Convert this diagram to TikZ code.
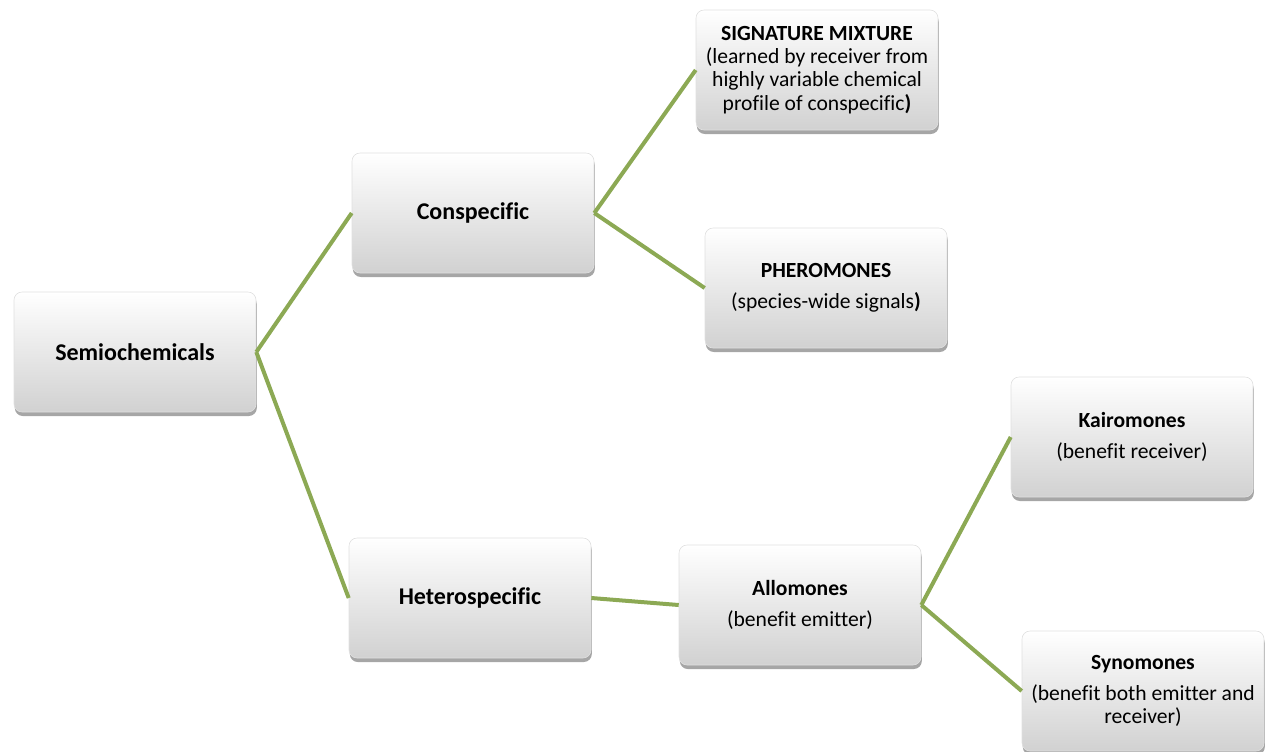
\documentclass[tikz,border=0pt]{standalone}
\usepackage{fontspec}
\setmainfont{Carlito}[Ligatures=NoCommon]
\usetikzlibrary{shadows}
\definecolor{branch}{HTML}{8CA954}
\tikzset{
    box/.style={rectangle, rounded corners=4pt, minimum width=121pt, minimum height=60pt,
        align=center, top color=white, bottom color=black!18, draw=black!12, line width=0.3pt,
        drop shadow={shadow xshift=0.4pt, shadow yshift=-2pt, fill=black, opacity=0.35},
        font=\fontsize{10.8}{11.6}\selectfont, inner sep=2pt},
    headbox/.style={box, font=\fontsize{12}{13}\selectfont\bfseries},
    link/.style={draw=branch, line width=2pt}
}

\begin{document}
\begin{tikzpicture}[x=0.5pt, y=-0.5pt]
    \useasboundingbox (0,0) rectangle (1272,751);

    \node[headbox] (semio) at (135,352) {Semiochemicals};
    \node[headbox] (con) at (473,213) {Conspecific};
    \node[box] (sig) at (817,70) {\textbf{SIGNATURE MIXTURE}\\(learned by receiver from\\highly variable chemical\\profile of conspecific\textbf{)}};
    \node[box] (phero) at (826,288) {\textbf{PHEROMONES}\\[4pt](species-wide signals\textbf{)}};
    \node[headbox] (het) at (470,598) {Heterospecific};
    \node[box] (allo) at (800,605) {\textbf{Allomones}\\[4pt](benefit emitter)};
    \node[box] (kairo) at (1132,437) {\textbf{Kairomones}\\[4pt](benefit receiver)};
    \node[box] (syno) at (1143,691) {\textbf{Synomones}\\[4pt](benefit both emitter and\\receiver)};

    \path[link] (semio.east) -- (con.west)
                (semio.east) -- (het.west)
                (con.east) -- (sig.west)
                (con.east) -- (phero.west)
                (het.east) -- (allo.west)
                (allo.east) -- (kairo.west)
                (allo.east) -- (syno.west);
\end{tikzpicture}
\end{document}
